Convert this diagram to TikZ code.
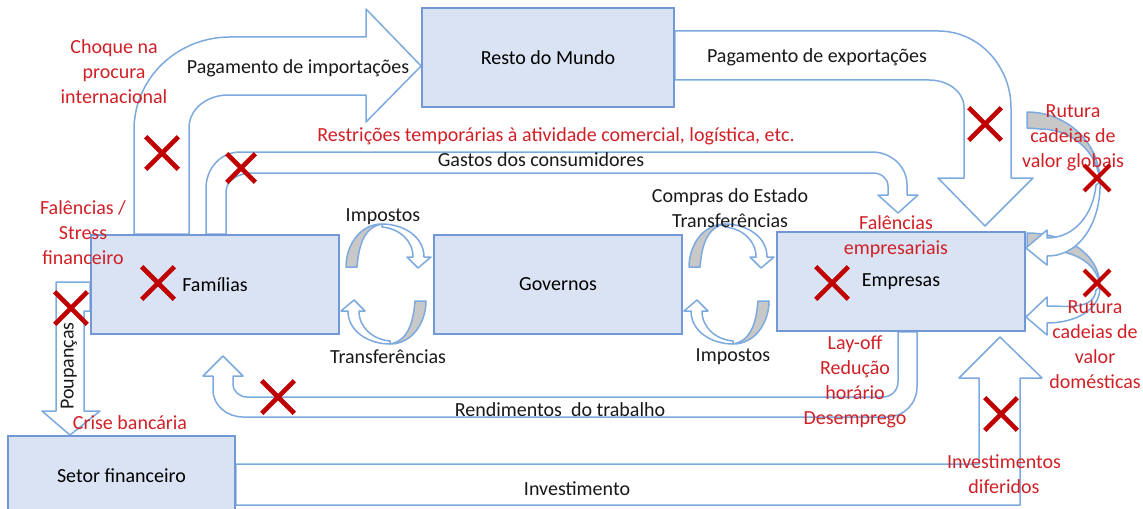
\documentclass[tikz,border=0pt]{standalone}
\usepackage{fontspec}
\setmainfont{Carlito}
\usetikzlibrary{shapes.misc}
\usetikzlibrary{backgrounds}
\definecolor{boxfill}{RGB}{218,227,243}
\definecolor{boxline}{RGB}{114,153,214}
\definecolor{flowline}{RGB}{125,170,222}
\definecolor{shockred}{RGB}{208,32,38}
\definecolor{crossred}{RGB}{192,0,0}
\definecolor{backgray}{RGB}{200,200,200}
\tikzstyle{sector} = [rectangle, minimum width=124pt, minimum height=49.5pt, text centered, draw=boxline, line width=0.9pt, fill=boxfill]
\tikzstyle{flowarrow} = [draw=flowline, line width=0.75pt, fill=white, line join=round]
\tikzstyle{backface} = [draw=flowline, line width=0.75pt, fill=backgray, line join=round]
\tikzstyle{flowtext} = [text=black!90, inner sep=0pt, align=center]
\tikzstyle{shock} = [text=shockred, inner sep=0pt, align=center]
\tikzstyle{cut} = [cross out, draw=crossred, line width=2.3pt, minimum size=14pt, inner sep=0pt]

\begin{document}
\begin{tikzpicture}[x=0.5pt, y=0.5pt, node distance=171.5pt, font=\fontsize{10}{12.5}\selectfont]
    \clip (0,0) rectangle (1143,-508);

    % sectors
    \node(Governos)[sector] at (558,-284.5){Governos};
    \node(Familias)[sector, left of=Governos]{Famílias};
    \node(Empresas)[sector, right of=Governos, yshift=1.5pt]{Empresas};
    \node(Resto)[sector, minimum width=126pt] at (548,-57.5){Resto do Mundo};
    \node(Setor)[sector, minimum width=113.5pt, minimum height=40pt] at (121.5,-476){Setor financeiro};

    % flows
    \begin{scope}[on background layer]
    \path[flowarrow] (134,0 |- Familias.north) -- (134,-130) to[out=90,in=180] (230,-37) -- (366,-37) -- (366,-9)
        -- (Resto.west |- 0,-66) -- (366,-122) -- (366,-95) -- (228,-95) to[out=180,in=90] (189,-128)
        -- (189,0 |- Familias.north) -- cycle;

    \path[flowarrow] (206,0 |- Familias.north) -- (206,-188) to[out=90,in=180] (240,-152) -- (872,-152)
        to[out=0,in=90] (907,-185) -- (907,-195) -- (918,-195) -- (898,-213) -- (878,-195) -- (888,-195)
        -- (888,-186) to[out=90,in=0] (873,-173) -- (252,-173) to[out=180,in=90] (226,-192)
        -- (226,0 |- Familias.north) -- cycle;

    \path[flowarrow] (Resto.east |- 0,-31) -- (938,-31) to[out=0,in=90] (1011,-108) -- (1011,-178) -- (1033,-178)
        -- (985,-226) -- (938,-178) -- (964,-178) -- (964,-108) to[out=90,in=0] (929,-80)
        -- (Resto.east |- 0,-80) -- cycle;

    \path[flowarrow] (898,0 |- Empresas.south) -- (898,-382) to[out=-90,in=0] (883,-397) -- (247,-397)
        to[out=180,in=-90] (233,-384) -- (233,-376) -- (243,-376) -- (223,-356) -- (203,-376) -- (213,-376)
        -- (213,-390) to[out=-90,in=180] (243,-417) -- (887,-417) to[out=0,in=-90] (917,-387)
        -- (917,0 |- Empresas.south) -- cycle;

    \path[flowarrow] (Familias.west |- 0,-282) -- (56,-282) -- (56,-411) -- (42,-411) -- (Setor.north -| 70,0)
        -- (100,-411) -- (84,-411) -- (84,-311) -- (Familias.west |- 0,-311) -- cycle;

    \path[flowarrow] (Setor.east |- 0,-464) -- (979,-464) -- (979,-378) -- (959,-378) -- (1000,-337)
        -- (1042,-378) -- (1020,-378) -- (1020,-505) -- (Setor.east |- 0,-505) -- cycle;

    % taxes and transfers
    \foreach \cx/\rot in {386/0, 386/180, 729/0, 729/180}{
      \begin{scope}[shift={(\cx,-284)}, rotate=\rot]
        \path[backface] (-40,17) to[out=90,in=180] (-4,60) to[out=190,in=85] (-29,17) -- cycle;
        \path[flowarrow] (-4,60) to[out=0,in=90] (38,27) -- (45,27) -- (32,16) -- (21,27) -- (27,27)
            to[out=90,in=-5] (-4,57) -- cycle;
      \end{scope}
    }

    % value chains
    \path[backface] (1027,-233) to[out=0,in=90] (1100,-287) to[out=95,in=0] (1045,-250) -- (1027,-249) -- cycle;
    \path[backface] (1027,-112) to[out=0,in=90] (1100,-182) to[out=95,in=0] (1040,-129) -- (1027,-128) -- cycle;
    \path[flowarrow] (1100,-182) to[out=-88,in=0] (1047,-256) -- (1047,-265) -- (Empresas.east |- 0,-248)
        -- (1047,-230) -- (1047,-238) to[out=0,in=-95] (1096,-185) -- cycle;
    \path[flowarrow] (1100,-287) to[out=-90,in=0] (1047,-323) -- (1047,-335) -- (Empresas.east |- 0,-317)
        -- (1047,-297) -- (1047,-306) to[out=0,in=-95] (1096,-290) -- cycle;
    \end{scope}

    % flow labels
    \node(imp)[flowtext] at (298,-68){Pagamento de importações};
    \node(exp)[flowtext] at (817,-57){Pagamento de exportações};
    \node(gastos)[flowtext] at (541,-160){Gastos dos consumidores};
    \node(impF)[flowtext] at (383,-217){Impostos};
    \node(transF)[flowtext] at (388,-357){Transferências};
    \node(compras)[flowtext] at (730,-208){Compras do Estado\\Transferências};
    \node(impE)[flowtext] at (733,-357){Impostos};
    \node(rend)[flowtext] at (560,-410){Rendimentos\ \ do trabalho};
    \node(poup)[flowtext, rotate=90] at (69,-366){Poupanças};
    \node(invest)[flowtext] at (577,-489){Investimento};

    % shocks
    \node(choque)[shock] at (114,-72){Choque na\\procura\\internacional};
    \node(falF)[shock] at (83,-233){Falências /\\Stress\\financeiro};
    \node(restr)[shock] at (556,-136){Restrições temporárias à atividade comercial, logística, etc.};
    \node(falE)[shock] at (896,-236.5){Falências\\empresariais};
    \node(layoff)[shock] at (855,-382){Lay-off\\Redução\\horário\\Desemprego};
    \node(rutG)[shock] at (1073,-138){Rutura\\cadeias de\\valor globais};
    \node(rutD)[shock] at (1095,-345){Rutura\\cadeias de\\valor\\domésticas};
    \node(crise)[shock] at (130,-423){Crise bancária};
    \node(difer)[shock] at (1004,-474){Investimentos\\diferidos};

    \node(xChoque)[cut] at (162,-153){};
    \node(xGastos)[cut, minimum size=12pt] at (241,-168){};
    \node(xExp)[cut] at (985,-124){};
    \node(xRutG)[cut, minimum size=11pt, line width=2pt] at (1097,-178){};
    \node(xRutD)[cut, minimum size=11pt, line width=2pt] at (1097,-283){};
    \node(xPoup)[cut] at (71,-308){};
    \node(xFam)[cut] at (158,-283){};
    \node(xEmp)[cut] at (832,-283){};
    \node(xRend)[cut] at (278,-397){};
    \node(xInv)[cut] at (1001,-414){};

\end{tikzpicture}
\end{document}
